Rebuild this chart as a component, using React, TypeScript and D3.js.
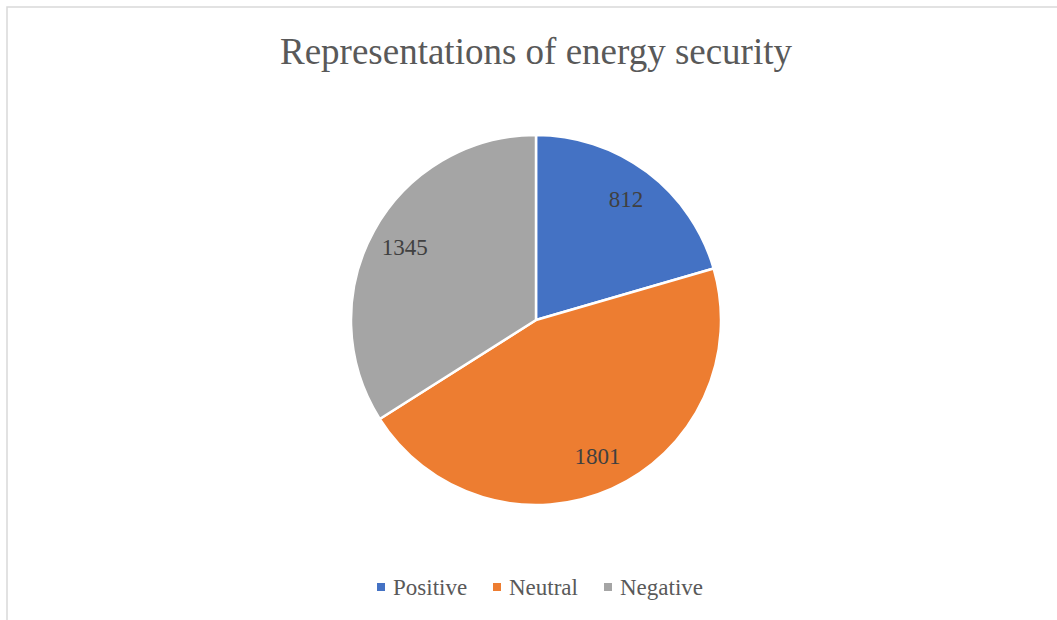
import * as d3 from 'd3';

const categories = ['Positive', 'Neutral', 'Negative'];
const values = [812, 1801, 1345];
const colors = ['#4472C4', '#ED7D31', '#A5A5A5'];
const title = 'Representations of energy security';

const W = 1057;
const H = 620;
const cx = 536;
const cy = 320;
const radius = 185;
const font = '"Liberation Serif", "Times New Roman", serif';

export default function App() {
  const pie = d3.pie<number>().sort(null).value(d => d);
  const arcs = pie(values);
  const arc = d3.arc<d3.PieArcDatum<number>>().innerRadius(0).outerRadius(radius);
  const labelArc = d3.arc<d3.PieArcDatum<number>>().innerRadius(radius * 0.81).outerRadius(radius * 0.81);

  // legend layout (marker left edges)
  const legendX = [377, 493, 604];

  return (
    <div style={{ position: 'absolute', left: 0, top: 0 }}>
      <svg width={W} height={H} style={{ display: 'block', background: '#fff' }}>
        <rect x={7} y={7} width={W + 20} height={H + 20} fill="#fff" stroke="#d9d9d9" strokeWidth={1.5} />
        <text x={cx} y={64} textAnchor="middle" fontFamily={font} fontSize={37} fill="#595959">
          {title}
        </text>
        <g transform={`translate(${cx},${cy})`}>
          {arcs.map((a, i) => (
            <path key={categories[i]} d={arc(a) || ''} fill={colors[i]} stroke="#fff" strokeWidth={2.5} strokeLinejoin="round" />
          ))}
          {arcs.map((a, i) => {
            const [x, y] = labelArc.centroid(a);
            return (
              <text key={'l' + i} x={x} y={y} dy="0.3em" textAnchor="middle" fontFamily={font} fontSize={23} fill="#404040">
                {values[i]}
              </text>
            );
          })}
        </g>
        {categories.map((c, i) => (
          <g key={c} transform={`translate(${legendX[i]},587)`}>
            <rect x={0} y={-4} width={8} height={8} fill={colors[i]} />
            <text x={16} y={8} fontFamily={font} fontSize={23} fill="#595959">{c}</text>
          </g>
        ))}
      </svg>
    </div>
  );
}
